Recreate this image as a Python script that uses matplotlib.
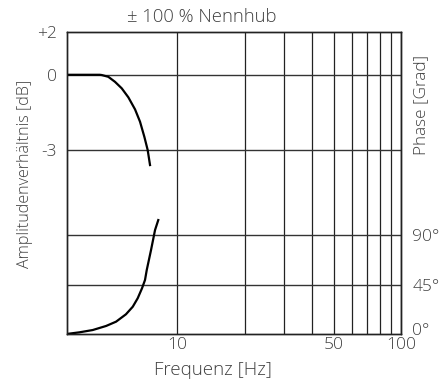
import numpy as np
import matplotlib.pyplot as plt
import matplotlib.transforms as mtransforms

# Amplitude response (dB)
amp_freq = [3.22, 4.53, 4.62, 4.94, 5.29, 5.67, 6.07, 6.50, 6.84, 7.15, 7.40, 7.58]
amp_db = [0.0, 0.0, -0.01, -0.08, -0.28, -0.54, -0.90, -1.38, -1.87, -2.47, -3.00, -3.60]

# Phase response (degrees)
ph_freq = [3.22, 3.67, 4.21, 4.83, 5.35, 5.92, 6.35, 6.68, 6.98, 7.20, 7.33,
           7.66, 7.98, 8.25]
ph_deg = [0.0, 1.5, 3.6, 7.3, 11.2, 17.9, 24.8, 32.5, 41.5, 49.1, 58.2,
          76.4, 94.5, 103.6]

x_ticks = [10, 50, 100]
x_grid = [10, 20, 30, 40, 50, 60, 70, 80, 90, 100]
db_ticks = [2, 0, -3]
db_labels = ["+2", "0", "-3"]
ph_ticks = [0, 45, 90]
ph_labels = ["0°", "45°", "90°"]

TXT = "#404040"
FS = 12.5
plt.rcParams['font.family'] = ['Open Sans', 'DejaVu Sans']
plt.rcParams['font.weight'] = 'light'


# dB -> position in phase-degree units (the two scales share one frame)
def db_to_y(db):
    db = np.asarray(db, dtype=float)
    return np.where(db >= 0, 235.7 + db * 19.3, 235.7 + db * 22.8)


fig = plt.figure(figsize=(4.44, 3.85), dpi=100)
ax = fig.add_axes([0.150, 0.1325, 0.754, 0.7835])
ax.set_xscale('log')
ax.set_xlim(3.22, 100)
ax.set_ylim(0, 274.3)

for x in x_grid:
    ax.axvline(x, color='#222222', lw=0.9, zorder=1)
for y in list(db_to_y([0, -3])) + [90, 45]:
    ax.axhline(y, color='#333333', lw=1.0, zorder=1)

ax.plot(amp_freq, db_to_y(amp_db), color='black', lw=1.6, zorder=3,
        solid_joinstyle='round')
ax.plot(ph_freq, ph_deg, color='black', lw=1.6, zorder=3,
        solid_joinstyle='round')

ax.set_xticks(x_ticks)
ax.set_xticklabels([str(v) for v in x_ticks])
ax.xaxis.set_minor_locator(plt.NullLocator())
ax.set_yticks(db_to_y(db_ticks))
ax.set_yticklabels(db_labels)
ax.tick_params(axis='both', length=0, labelsize=FS, colors=TXT)
ax.tick_params(axis='y', pad=7)
ax.tick_params(axis='x', pad=2)

ax2 = ax.twinx()
ax2.set_ylim(ax.get_ylim())
ax2.set_yticks(ph_ticks)
ax2.set_yticklabels(ph_labels)
ax2.tick_params(axis='y', length=0, labelsize=FS, colors=TXT, pad=8)
# lift the 0° label a little off the bottom edge
lbl0 = ax2.get_yticklabels()[0]
lbl0.set_transform(lbl0.get_transform() +
                   mtransforms.ScaledTranslation(0, 5 / 100, fig.dpi_scale_trans))

for a in (ax, ax2):
    for s in a.spines.values():
        s.set_color('#222222')
        s.set_linewidth(1.0)

fig.text(0.454, 0.956, "± 100 % Nennhub", ha='center', va='center',
         fontsize=13.3, color=TXT)
fig.text(0.48, 0.039, "Frequenz [Hz]", ha='center', va='center',
         fontsize=13.5, color=TXT)
fig.text(0.056, 0.549, "Amplitudenverhältnis [dB]", ha='center', va='center',
         rotation=90, fontsize=11.6, color=TXT)
fig.text(0.948, 0.727, "Phase [Grad]", ha='center', va='center',
         rotation=90, fontsize=12.3, color=TXT)

fig.savefig("out.png", dpi=100)
